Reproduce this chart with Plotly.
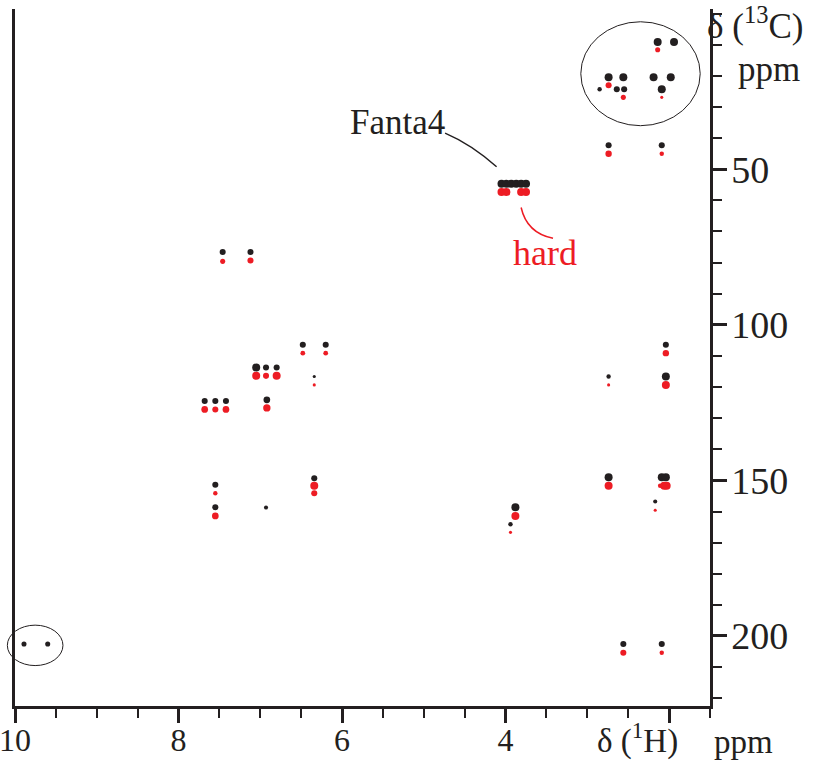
import plotly.graph_objects as go

# ---- data: 1H / 13C chemical shifts (ppm) and relative peak intensity ----
fanta_h = [2.14, 1.94,
           2.74, 2.56, 2.19, 1.98,
           2.85, 2.64, 2.55, 2.09,
           2.74, 2.09,
           4.05, 3.99, 3.93, 3.87, 3.81, 3.75,
           7.46, 7.12,
           6.48, 6.20,
           7.05, 6.93, 6.80, 6.34,
           7.68, 7.55, 7.42, 6.92,
           7.55, 7.55, 6.93, 6.34,
           3.88, 3.94,
           2.04, 2.74, 2.04,
           2.74, 2.09, 2.04, 2.17,
           9.89, 9.60, 2.56, 2.09]
fanta_c = [9.1, 9.1,
           20.4, 20.4, 20.4, 20.4,
           24.3, 24.3, 24.3, 24.3,
           42.3, 42.3,
           54.7, 54.7, 54.7, 54.7, 54.7, 54.7,
           76.6, 76.6,
           106.4, 106.4,
           113.7, 113.7, 113.7, 116.6,
           124.5, 124.5, 124.5, 124.1,
           151.4, 158.6, 158.7, 149.3,
           158.6, 164.1,
           106.4, 116.6, 116.6,
           149.0, 149.0, 149.0, 156.8,
           202.6, 202.6, 202.6, 202.6]
fanta_int = [1, 1,
             1, 1, 1, 1,
             0.45, 0.7, 0.7, 1,
             0.7, 0.7,
             1, 1, 1, 1, 1, 1,
             0.7, 0.7,
             0.7, 0.7,
             1, 0.7, 0.7, 0.25,
             0.7, 0.7, 0.7, 0.8,
             0.7, 0.7, 0.4, 0.7,
             1, 0.45,
             0.7, 0.45, 1,
             1, 1, 1, 0.4,
             0.55, 0.55, 0.7, 0.7]

hard_h = [2.14, 2.74, 2.56, 2.09,
          2.74, 2.09,
          4.05, 3.99, 3.81, 3.75,
          7.46, 7.12,
          6.48, 6.20,
          7.05, 6.93, 6.80, 6.34,
          7.68, 7.55, 7.42, 6.92,
          7.55, 7.55, 6.34, 6.34,
          3.88, 3.94,
          2.04, 2.74, 2.04,
          2.74, 2.11, 2.06, 2.03,
          2.17, 2.56, 2.09]
hard_c = [11.6, 23.0, 26.9, 26.9,
          45.0, 45.0,
          57.3, 57.3, 57.3, 57.3,
          79.6, 79.3,
          109.1, 109.1,
          116.4, 116.4, 116.4, 119.3,
          127.2, 127.2, 127.2, 126.7,
          154.1, 161.4, 151.7, 154.1,
          161.4, 166.7,
          109.1, 119.3, 119.3,
          151.7, 151.7, 151.7, 151.7,
          159.6, 205.4, 205.4]
hard_int = [0.55, 0.7, 0.55, 0.25,
            0.75, 0.45,
            1, 1, 1, 1,
            0.55, 0.7,
            0.5, 0.5,
            1, 0.7, 1, 0.25,
            0.8, 0.7, 0.8, 0.9,
            0.45, 0.8, 1, 0.7,
            1, 0.25,
            0.75, 0.25, 1,
            1, 0.45, 1, 1,
            0.25, 0.7, 0.45]

x_tickvals = [10, 8, 6, 4, 2]
x_ticktext = ["10", "8", "6", "4", ""]
y_tickvals = [50, 100, 150, 200]
y_ticktext = ["50", "100", "150", "200"]

BLACK = "#231f20"
RED = "#ed1c24"
FONT = "Liberation Serif, Times New Roman, serif"


def sizes(vals):
    return [1.5 + 6.5 * v for v in vals]


fig = go.Figure()
fig.add_trace(go.Scatter(x=hard_h, y=hard_c, mode="markers", name="hard",
                         marker=dict(color=RED, size=sizes(hard_int), opacity=1,
                                     line=dict(width=0))))
fig.add_trace(go.Scatter(x=fanta_h, y=fanta_c, mode="markers", name="Fanta4",
                         marker=dict(color=BLACK, size=sizes(fanta_int), opacity=1,
                                     line=dict(width=0))))

# ellipses around groups
fig.add_shape(type="circle", xref="x", yref="y", x0=3.08, x1=1.62, y0=2.6, y1=36.0,
              line=dict(color=BLACK, width=1))
fig.add_shape(type="circle", xref="paper", yref="paper", x0=-0.011, x1=0.069,
              y0=0.058, y1=0.116, line=dict(color=BLACK, width=1))

# leader lines
fig.add_shape(type="path", xref="x", yref="y",
              path="M 4.74,38.4 Q 4.42,42.0 4.11,49.2",
              line=dict(color=BLACK, width=1.5))
fig.add_shape(type="path", xref="x", yref="y",
              path="M 3.81,62.3 Q 3.74,70.5 3.42,72.2",
              line=dict(color=RED, width=1.5))

fig.add_annotation(x=5.32, y=35.0, xref="x", yref="y", text="Fanta4", showarrow=False,
                   font=dict(family=FONT, size=35, color=BLACK))
fig.add_annotation(x=3.52, y=76.8, xref="x", yref="y", text="hard", showarrow=False,
                   font=dict(family=FONT, size=36, color=RED))

# axis titles
fig.add_annotation(x=0.993, y=0.979, xref="paper", yref="paper", xanchor="left",
                   yanchor="middle", text="δ (<sup>13</sup>C)", showarrow=False,
                   font=dict(family=FONT, size=35, color=BLACK))
fig.add_annotation(x=1.038, y=0.913, xref="paper", yref="paper", xanchor="left",
                   yanchor="middle", text="ppm", showarrow=False,
                   font=dict(family=FONT, size=35, color=BLACK))
fig.add_annotation(x=0.835, y=-0.047, xref="paper", yref="paper", xanchor="left",
                   yanchor="middle", text="δ (<sup>1</sup>H)", showarrow=False,
                   font=dict(family=FONT, size=33, color=BLACK))
fig.add_annotation(x=1.003, y=-0.052, xref="paper", yref="paper", xanchor="left",
                   yanchor="middle", text="ppm", showarrow=False,
                   font=dict(family=FONT, size=33, color=BLACK))

fig.update_layout(
    width=830, height=761,
    margin=dict(l=15, r=120, t=9, b=55),
    paper_bgcolor="white", plot_bgcolor="white",
    showlegend=False,
    font=dict(family=FONT, color=BLACK),
    xaxis=dict(range=[10, 1.5], tickvals=x_tickvals, ticktext=x_ticktext,
               automargin=False, ticklabeloverflow="allow", ticklabelstandoff=-10,
               showgrid=False, zeroline=False, showline=True, linecolor=BLACK, linewidth=2.5,
               ticks="outside", ticklen=14, tickwidth=2.5, tickcolor=BLACK,
               minor=dict(dtick=0.5, ticks="outside", ticklen=9, tickwidth=2, tickcolor=BLACK),
               tickfont=dict(family=FONT, size=32, color=BLACK)),
    yaxis=dict(range=[222.5, -1.5], side="right", tickvals=y_tickvals, ticktext=y_ticktext,
               automargin=False, ticklabeloverflow="allow", ticklabelstandoff=-3,
               showgrid=False, zeroline=False, showline=True, mirror=True,
               linecolor=BLACK, linewidth=2.5,
               ticks="outside", ticklen=14, tickwidth=2.5, tickcolor=BLACK,
               minor=dict(dtick=10, ticks="outside", ticklen=9, tickwidth=2, tickcolor=BLACK),
               tickfont=dict(family=FONT, size=38, color=BLACK)),
)

fig.write_html("out.html", config={"displayModeBar": False},
               post_script="document.body.style.margin='0';")
